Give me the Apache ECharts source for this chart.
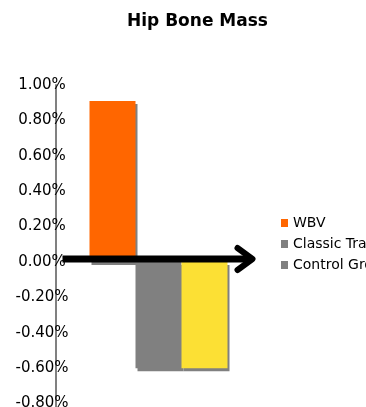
<!DOCTYPE html>
<html>
<head>
<meta charset="utf-8">
<script src="https://cdn.jsdelivr.net/npm/echarts@6/dist/echarts.min.js"></script>
<style>
  html, body { margin: 0; padding: 0; background: #fff; }
  #chart { width: 366px; height: 407px; }
</style>
</head>
<body>
<div id="chart"></div>
<script>
// Change in hip bone mass (%), one group of three bars
const categories = ['Hip'];
const seriesNames = ['WBV', 'Classic Training', 'Control Group'];
const wbvValues = [0.91];
const classicValues = [-0.60];
const controlValues = [-0.60];
const yTicks = [-1.0, -0.8, -0.6, -0.4, -0.2, 0, 0.2, 0.4, 0.6, 0.8, 1.0];

const FONT = '"DejaVu Sans", Verdana, sans-serif';
const barShadow = { shadowColor: '#808080', shadowOffsetX: 2, shadowOffsetY: 3, shadowBlur: 0 };

const chart = echarts.init(document.getElementById('chart'), null, { renderer: 'canvas' });

chart.setOption({
  animation: false,
  backgroundColor: '#ffffff',
  title: {
    text: 'Hip Bone Mass',
    left: 127,
    top: 13,
    padding: 0,
    textStyle: { fontFamily: FONT, fontSize: 17, fontWeight: 'bold', color: '#000' }
  },
  legend: {
    orient: 'vertical',
    left: 281,
    top: 216,
    padding: 0,
    itemWidth: 7,
    itemHeight: 8,
    itemGap: 7,
    icon: 'rect',
    textStyle: { fontFamily: FONT, fontSize: 14, color: '#000' },
    data: [
      { name: seriesNames[0], itemStyle: { color: '#FF6600' } },
      { name: seriesNames[1], itemStyle: { color: '#808080' } },
      { name: seriesNames[2], itemStyle: { color: '#808080' } }
    ]
  },
  // the plot runs past the bottom edge of the canvas
  grid: { left: 56, top: 85, width: 205, height: 354, containLabel: false, outerBoundsMode: 'none' },
  xAxis: {
    type: 'category',
    data: categories,
    show: false
  },
  yAxis: {
    type: 'value',
    min: yTicks[0],
    max: yTicks[yTicks.length - 1],
    interval: 0.2,
    axisLine: { show: true, lineStyle: { color: '#808080', width: 2 } },
    axisTick: { show: false },
    splitLine: { show: false },
    axisLabel: {
      align: 'center',
      margin: 14,
      fontFamily: FONT,
      fontSize: 15,
      color: '#000',
      formatter: v => v.toFixed(2) + '%'
    }
  },
  series: [
    {
      name: seriesNames[0], type: 'bar', data: wbvValues,
      barWidth: 46, barGap: '0%',
      itemStyle: Object.assign({ color: '#FF6600' }, barShadow)
    },
    {
      name: seriesNames[1], type: 'bar', data: classicValues,
      barWidth: 46, barGap: '0%',
      itemStyle: Object.assign({ color: '#808080' }, barShadow)
    },
    {
      name: seriesNames[2], type: 'bar', data: controlValues,
      barWidth: 46, barGap: '0%',
      itemStyle: Object.assign({ color: '#FCE034' }, barShadow)
    }
  ]
});

// Heavy black arrow running along the zero baseline
const y0 = chart.convertToPixel({ yAxisIndex: 0 }, 0) - 3;
const xStart = chart.convertToPixel({ xAxisIndex: 0 }, categories[0]) - 96;
chart.setOption({
  graphic: [
    {
      type: 'line', z: 100,
      shape: { x1: xStart, y1: y0, x2: xStart + 187, y2: y0 },
      style: { stroke: '#000', lineWidth: 7 }
    },
    {
      type: 'polyline', z: 101,
      shape: { points: [[xStart + 175, y0 - 11], [xStart + 190, y0], [xStart + 175, y0 + 11]] },
      style: { stroke: '#000', lineWidth: 6, fill: null, lineCap: 'round', lineJoin: 'round' }
    }
  ]
});
</script>
</body>
</html>
